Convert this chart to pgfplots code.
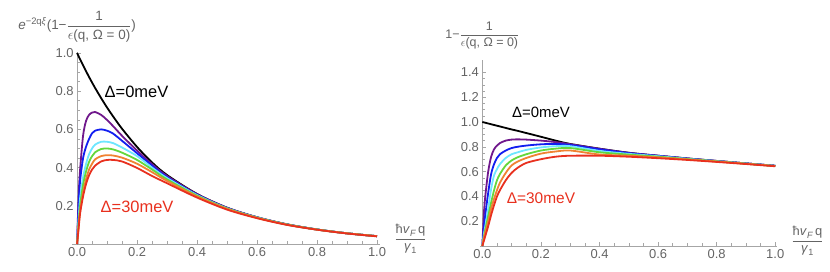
\documentclass[border=0pt]{standalone}
\usepackage{fontspec}
\setmainfont{Liberation Sans}
\usepackage{amsmath}
\usepackage{pgfplots}
\usepackage{pgfplotstable}
\pgfplotsset{compat=1.18}
\definecolor{cK}{RGB}{0,0,0}
\definecolor{cP}{RGB}{112,24,140}
\definecolor{cB}{RGB}{18,30,240}
\definecolor{cC}{RGB}{110,230,255}
\definecolor{cG}{RGB}{100,215,60}
\definecolor{cO}{RGB}{240,130,50}
\definecolor{cR}{RGB}{232,48,30}
\definecolor{lab}{RGB}{100,100,100}

\pgfplotstableread{
q     k     p     b     c     g     o     r
0     1.000 0     0     0     0     0     0
0.005 0.983 0.247 0.20  0.13  0.11  0.09  0.08
0.01  0.967 0.389 0.33  0.24  0.20  0.17  0.16
0.02  0.935 0.568 0.45  0.35  0.31  0.27  0.25
0.03  0.904 0.645 0.51  0.42  0.38  0.34  0.315
0.04  0.874 0.676 0.55  0.47  0.43  0.39  0.36
0.05  0.845 0.688 0.58  0.50  0.46  0.42  0.39
0.06  0.817 0.691 0.593 0.52  0.48  0.443 0.41
0.08  0.764 0.676 0.60  0.535 0.497 0.46  0.432
0.10  0.714 0.649 0.593 0.535 0.50  0.465 0.44
0.12  0.668 0.617 0.578 0.528 0.495 0.463 0.44
0.15  0.603 0.566 0.54  0.505 0.478 0.452 0.432
0.20  0.508 0.489 0.475 0.46  0.44  0.42  0.398
0.25  0.427 0.418 0.41  0.40  0.39  0.376 0.356
0.30  0.361 0.356 0.35  0.345 0.338 0.33  0.318
0.40  0.262 0.261 0.258 0.256 0.253 0.249 0.243
0.50  0.190 0.190 0.188 0.187 0.186 0.184 0.180
0.60  0.140 0.140 0.139 0.139 0.138 0.137 0.135
0.70  0.103 0.103 0.102 0.102 0.102 0.101 0.100
0.80  0.076 0.076 0.076 0.076 0.076 0.075 0.075
0.90  0.056 0.056 0.056 0.056 0.056 0.056 0.055
1.00  0.041 0.041 0.041 0.041 0.041 0.041 0.040
}\leftdata

\pgfplotstableread{
q     k     p     b     c     g     o     r
0     1.000 0     0     0     0     0     0
0.005 0.997 0.25  0.14  0.09  0.07  0.06  0.04
0.01  0.994 0.40  0.25  0.16  0.13  0.11  0.08
0.02  0.988 0.60  0.43  0.30  0.24  0.20  0.16
0.03  0.982 0.72  0.58  0.46  0.35  0.30  0.25
0.04  0.976 0.78  0.66  0.57  0.45  0.38  0.33
0.05  0.970 0.81  0.71  0.62  0.53  0.45  0.40
0.06  0.964 0.83  0.74  0.66  0.58  0.51  0.45
0.08  0.952 0.85  0.77  0.71  0.65  0.59  0.53
0.10  0.940 0.858 0.79  0.74  0.69  0.65  0.59
0.12  0.929 0.86  0.80  0.755 0.715 0.68  0.63
0.15  0.911 0.858 0.81  0.775 0.74  0.71  0.67
0.20  0.881 0.85  0.82  0.795 0.77  0.745 0.70
0.25  0.850 0.838 0.823 0.805 0.785 0.762 0.72
0.30  0.823 0.821 0.815 0.805 0.79  0.77  0.728
0.40  0.785 0.784 0.78  0.767 0.756 0.738 0.728
0.50  0.752 0.751 0.749 0.743 0.737 0.728 0.72
0.60  0.728 0.728 0.727 0.724 0.72  0.715 0.708
0.70  0.706 0.706 0.705 0.703 0.701 0.698 0.694
0.80  0.686 0.686 0.685 0.684 0.683 0.681 0.678
0.90  0.666 0.666 0.666 0.665 0.664 0.663 0.661
1.00  0.647 0.647 0.647 0.646 0.645 0.645 0.643
}\rightdata

\pgfplotsset{
  mstyle/.style={
    scale only axis,
    anchor=south west,
    clip=false,
    axis x line=bottom,
    axis y line=middle,
    axis line style={-, draw=black!35, line width=0.6pt},
    tick align=inside,
    major tick length=4bp,
    minor tick length=2.5bp,
    every tick/.style={draw=black!35, line width=0.5pt},
    minor x tick num=3,
    minor y tick num=3,
    xtick={0,0.2,0.4,0.6,0.8,1.0},
    xticklabels={0.0,0.2,0.4,0.6,0.8,1.0},
    ticklabel style={font=\fontsize{13}{15}\selectfont, text=lab},
    every axis plot/.append style={line width=1.8bp, smooth, no markers},
    every axis x label/.style={at={(axis description cs:1,0)}, anchor=west, xshift=11bp, yshift=5bp, text=lab, font=\fontsize{13}{15}\selectfont},
  },
}

\newcommand{\xlab}{$\dfrac{\text{ħ\textit{v}}_{\textit{F}}\,\text{q}}{\text{\textit{γ}}_{\text{1}}}$}

\begin{document}
\begin{tikzpicture}
\path[use as bounding box] (0bp,0bp) rectangle (830bp,272bp);

\begin{axis}[mstyle,
  at={(72bp,28bp)},
  width=308bp, height=192bp,
  xmin=-0.017, xmax=1.01, ymin=0, ymax=1.005,
  ytick={0.2,0.4,0.6,0.8,1.0},
  yticklabels={0.2,0.4,0.6,0.8,1.0},
  xlabel={\xlab},
  every axis y label/.style={at={(axis cs:0,1.005)}, anchor=south, yshift=6bp, text=lab, font=\fontsize{13.5}{16}\selectfont},
  ylabel={$\text{\textit{e}}^{\text{−2q\textit{ξ}}}\text{(1−}\dfrac{\text{1}}{\epsilon\text{(q, Ω = 0)}}\text{)}$},
]
\addplot[cK] table[x=q,y=k] {\leftdata};
\addplot[cP] table[x=q,y=p] {\leftdata};
\addplot[cB] table[x=q,y=b] {\leftdata};
\addplot[cC] table[x=q,y=c] {\leftdata};
\addplot[cG] table[x=q,y=g] {\leftdata};
\addplot[cO] table[x=q,y=o] {\leftdata};
\addplot[cR] table[x=q,y=r] {\leftdata};
\node[font=\fontsize{16.5}{18}\selectfont, text=black] at (axis cs:0.198,0.796) {Δ=0meV};
\node[font=\fontsize{16.5}{18}\selectfont, text=cR] at (axis cs:0.2,0.194) {Δ=30meV};
\end{axis}

\begin{axis}[mstyle,
  at={(480bp,26bp)},
  width=297bp, height=186bp,
  xmin=-0.008, xmax=1.006, ymin=0, ymax=1.5,
  ytick={0.2,0.4,0.6,0.8,1.0,1.2,1.4},
  yticklabels={0.2,0.4,0.6,0.8,1.0,1.2,1.4},
  xlabel={\xlab},
  every axis y label/.style={at={(axis cs:0,1.5)}, anchor=south, yshift=7bp, text=lab, font=\fontsize{12.5}{15}\selectfont},
  ylabel={$\text{1−}\dfrac{\text{1}}{\epsilon\text{(q, Ω = 0)}}$},
]
\addplot[cK] table[x=q,y=k] {\rightdata};
\addplot[cP] table[x=q,y=p] {\rightdata};
\addplot[cB] table[x=q,y=b] {\rightdata};
\addplot[cC] table[x=q,y=c] {\rightdata};
\addplot[cG] table[x=q,y=g] {\rightdata};
\addplot[cO] table[x=q,y=o] {\rightdata};
\addplot[cR] table[x=q,y=r] {\rightdata};
\node[font=\fontsize{15}{17}\selectfont, text=black] at (axis cs:0.2,1.08) {Δ=0meV};
\node[font=\fontsize{15.5}{17}\selectfont, text=cR] at (axis cs:0.2,0.387) {Δ=30meV};
\end{axis}
\end{tikzpicture}
\end{document}
